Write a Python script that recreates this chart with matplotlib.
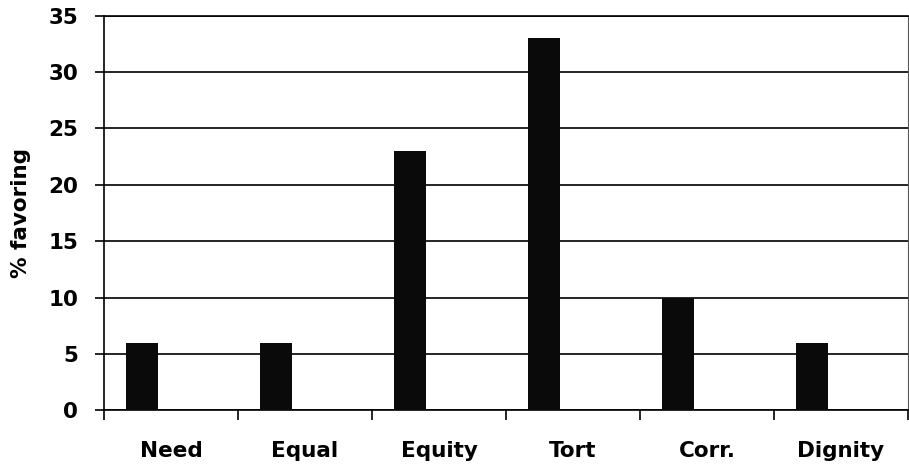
import numpy as np
import matplotlib
matplotlib.use('Agg')
import matplotlib.pyplot as plt

plt.rcParams['font.family'] = ['DejaVu Sans']
plt.rcParams['font.weight'] = 'bold'

# data
categories = ['Need', 'Equal', 'Equity', 'Tort', 'Corr.', 'Dignity']
favoring = [6, 6, 23, 33, 10, 6]
yticks = [0, 5, 10, 15, 20, 25, 30, 35]

fig = plt.figure(figsize=(9.09, 4.70), dpi=100)
ax = fig.add_axes([0.1144, 0.1266, 0.8845, 0.84])

idx = np.arange(len(categories))
# bars sit in the left part of each category slot
ax.bar(idx + 0.283, favoring, width=0.238, color='#0a0a0a', zorder=3)

ax.set_xlim(0, len(categories))
ax.set_ylim(0, 35)

ax.set_yticks(yticks)
ax.set_yticklabels([str(v) for v in yticks], fontsize=15.5, fontweight='bold')
ax.tick_params(axis='y', direction='out', length=6.5, width=1.2, pad=12)

ax.set_xticks(idx + 0.5)
ax.set_xticklabels(categories, fontsize=15.5, fontweight='bold')
ax.set_xticks(np.arange(len(categories) + 1), minor=True)
ax.tick_params(axis='x', which='major', length=0, pad=22)
ax.tick_params(axis='x', which='minor', direction='out', length=7, width=1.2)

ax.yaxis.grid(True, color='black', linewidth=1.2, zorder=1)
ax.set_axisbelow(True)

for side in ['left', 'bottom', 'top']:
    ax.spines[side].set_linewidth(1.2)
ax.spines['right'].set_linewidth(0.8)
ax.spines['right'].set_color('#555555')

ax.set_ylabel('% favoring', fontsize=15.5, fontweight='bold')
ax.yaxis.set_label_coords(-0.091, 0.5)

fig.savefig('out.png', dpi=100)
